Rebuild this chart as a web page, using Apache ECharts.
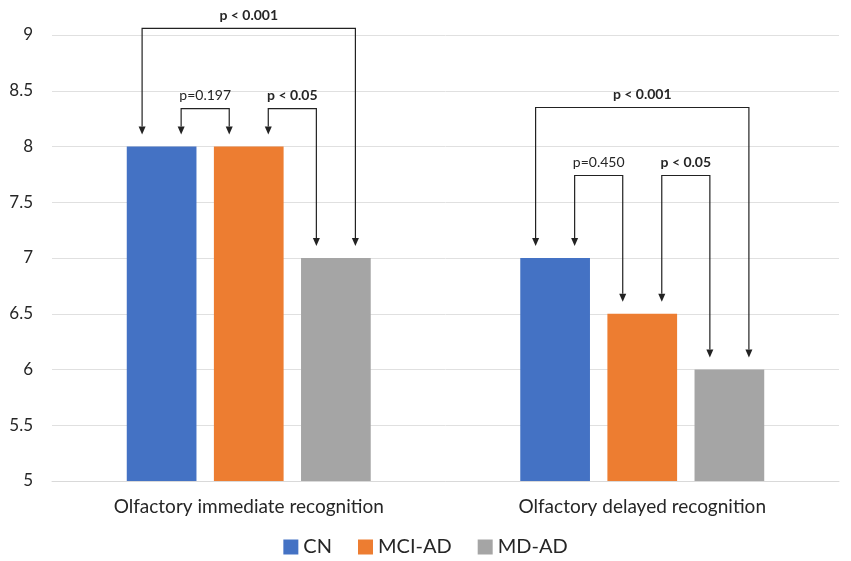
<!DOCTYPE html>
<html><head><meta charset="utf-8">
<script src="https://cdn.jsdelivr.net/npm/echarts@6/dist/echarts.min.js"></script>
<style>html,body{margin:0;padding:0;background:#fff}#c{width:851px;height:561px}</style>
</head><body><div id="c"></div>
<script>
const categories = ['Olfactory immediate recognition', 'Olfactory delayed recognition'];
const seriesNames = ['CN', 'MCI-AD', 'MD-AD'];
const cnValues = [8, 7];
const mciValues = [8, 6.5];
const mdValues = [7, 6];
const yTicks = ['5', '5.5', '6', '6.5', '7', '7.5', '8', '8.5', '9'];
// significance brackets
const bracketCategory = [0, 0, 0, 1, 1, 1];
const bracketFrom = [0, 0, 1, 0, 0, 1];
const bracketTo = [2, 1, 2, 2, 1, 2];
const bracketLevel = [9.06, 8.34, 8.34, 8.35, 7.74, 7.74];
const bracketLabel = ['p < 0.001', 'p=0.197', 'p < 0.05', 'p < 0.001', 'p=0.450', 'p < 0.05'];
const bracketBold = [true, false, true, true, false, true];

const colors = ['#4472C4', '#ED7D31', '#A5A5A5'];
const FONT = 'Lato';
const TEXT = '#262626';
const valuesBySeries = [cnValues, mciValues, mdValues];

const chart = echarts.init(document.getElementById('c'), null, {renderer: 'canvas'});
chart.setOption({
  animation: false,
  color: colors,
  grid: {left: 52, right: 12, top: 35, bottom: 80, containLabel: false},
  legend: {
    top: 532, left: 'center', itemWidth: 15, itemHeight: 15, itemGap: 26,
    icon: 'rect',
    textStyle: {fontFamily: FONT, fontSize: 20, color: TEXT},
    data: seriesNames
  },
  xAxis: {
    type: 'category', data: categories,
    axisLine: {show: true, lineStyle: {color: '#d9d9d9'}},
    axisTick: {show: false},
    axisLabel: {fontFamily: FONT, fontSize: 19, color: TEXT, margin: 16}
  },
  yAxis: {
    type: 'value', min: 5, max: 9, interval: 0.5,
    axisLine: {show: false}, axisTick: {show: false},
    splitLine: {lineStyle: {color: '#e0e0e0', width: 1}},
    axisLabel: {
      fontFamily: FONT, fontSize: 17, color: TEXT, margin: 19,
      formatter: function (v) { const i = Math.round((v - 5) / 0.5); return yTicks[i] !== undefined ? yTicks[i] : String(v); }
    }
  },
  series: seriesNames.map(function (n, i) {
    return {
      name: n, type: 'bar', data: valuesBySeries[i],
      barGap: '25%', barCategoryGap: '38%',
      itemStyle: {color: colors[i]}
    };
  })
});

function barGeom(s, c) {
  const lay = chart.getModel().getSeriesByIndex(s).getData().getItemLayout(c);
  const x0 = Math.min(lay.x, lay.x + lay.width);
  const w = Math.abs(lay.width);
  const top = chart.convertToPixel({yAxisIndex: 0}, valuesBySeries[s][c]);
  return {cx: x0 + w / 2, w: w, top: top};
}

const elements = [];
const lineColor = '#222';
for (let k = 0; k < bracketLabel.length; k++) {
  const c = bracketCategory[k];
  const a = barGeom(bracketFrom[k], c);
  const b = barGeom(bracketTo[k], c);
  const off = a.w * 0.28;
  const outer = (bracketTo[k] - bracketFrom[k]) === 2;
  const xa = outer ? a.cx - off : a.cx + off;
  const xb = outer ? b.cx + off : b.cx - off;
  const yTop = chart.convertToPixel({yAxisIndex: 0}, bracketLevel[k]);
  const tipA = a.top - 12;
  const tipB = b.top - 12;
  const ah = 8, aw = 3.5;
  elements.push({
    type: 'polyline', silent: true,
    shape: {points: [[xa, tipA - ah], [xa, yTop], [xb, yTop], [xb, tipB - ah]]},
    style: {stroke: lineColor, lineWidth: 1.2, fill: null}
  });
  [[xa, tipA], [xb, tipB]].forEach(function (p) {
    elements.push({
      type: 'polygon', silent: true,
      shape: {points: [[p[0] - aw, p[1] - ah], [p[0] + aw, p[1] - ah], [p[0], p[1]]]},
      style: {fill: lineColor}
    });
  });
  elements.push({
    type: 'text', silent: true,
    x: (xa + xb) / 2, y: yTop - 13,
    style: {
      text: bracketLabel[k], fill: TEXT, align: 'center', verticalAlign: 'middle',
      font: (bracketBold[k] ? 'bold ' : '') + '14px ' + FONT
    }
  });
}
chart.setOption({graphic: elements});
</script>
</body></html>
